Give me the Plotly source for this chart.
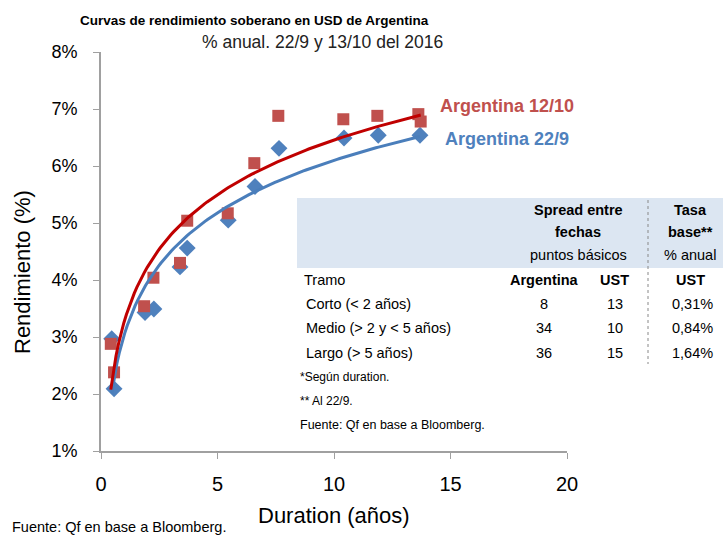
import numpy as np
import plotly.graph_objects as go

# ---- Data ----
dur_229 = [0.46, 0.56, 1.89, 2.27, 3.39, 3.70, 5.46, 6.61, 7.64, 10.43, 11.90, 13.69]
yld_229 = [2.97, 2.09, 3.43, 3.49, 4.23, 4.56, 5.05, 5.64, 6.31, 6.49, 6.54, 6.54]

dur_1210 = [0.42, 0.56, 1.85, 2.25, 3.39, 3.70, 5.44, 6.58, 7.61, 10.40, 11.86, 13.62, 13.72]
yld_1210 = [2.88, 2.38, 3.54, 4.04, 4.30, 5.04, 5.17, 6.05, 6.88, 6.82, 6.88, 6.91, 6.78]

x_ticks = [0, 5, 10, 15, 20]
y_ticks = [1, 2, 3, 4, 5, 6, 7, 8]
y_tick_text = ["1%", "2%", "3%", "4%", "5%", "6%", "7%", "8%"]

tramos = ["Corto (< 2 años)", "Medio (> 2 y < 5 años)", "Largo (> 5 años)"]
spread_arg = ["8", "34", "36"]
spread_ust = ["13", "10", "15"]
tasa_ust = ["0,31%", "0,84%", "1,64%"]

RED_M = "#C0504D"
RED_L = "#C00000"
BLUE_M = "#4F81BD"
BLUE_L = "#4A7EBB"
FONT = "Liberation Sans"

W, H = 723, 535
L, R, T, B = 101, 567, 52, 451


def px(x):
    return (x - L) / (R - L)


def py(y):
    return (B - y) / (B - T)


def log_trend(xs, ys):
    b, a = np.polyfit(np.log(xs), ys, 1)
    xx = np.linspace(min(xs), max(xs), 120)
    return xx, a + b * np.log(xx)


fig = go.Figure()

for xs, ys, mc, sym, sz in [
    (dur_229, yld_229, BLUE_M, "diamond", 13),
    (dur_1210, yld_1210, RED_M, "square", 12),
]:
    fig.add_trace(go.Scatter(x=xs, y=ys, mode="markers",
                             marker=dict(symbol=sym, size=sz, color=mc),
                             showlegend=False, hoverinfo="skip"))

for xs, ys, lc in [(dur_229, yld_229, BLUE_L), (dur_1210, yld_1210, RED_L)]:
    tx, ty = log_trend(xs, ys)
    fig.add_trace(go.Scatter(x=tx, y=ty, mode="lines",
                             line=dict(color=lc, width=3),
                             showlegend=False, hoverinfo="skip"))

ann = []


def text(x, y, s, size=14.5, color="black", bold=False, xanchor="center", angle=0):
    if bold:
        s = "<b>" + s + "</b>"
    ann.append(dict(x=px(x), y=py(y), xref="paper", yref="paper", text=s, showarrow=False,
                    xanchor=xanchor, yanchor="middle", textangle=angle,
                    font=dict(family=FONT, size=size, color=color)))


# Titles
text(254, 20, "Curvas de rendimiento soberano en USD de Argentina", size=13.5, bold=True)
text(322, 42, "% anual. 22/9 y 13/10 del 2016", size=17.5, color="#222")
text(334, 515, "Duration (años)", size=22)
text(10, 527, "Fuente: Qf en base a Bloomberg.", size=14.5, xanchor="left")
text(22, 272, "Rendimiento (%)", size=22, angle=-90)

# Series labels
text(438, 106, "Argentina 12/10", size=18, color=RED_M, bold=True, xanchor="left")
text(443, 139, "Argentina 22/9", size=18, color=BLUE_M, bold=True, xanchor="left")

# Table
text(578, 210, "Spread entre", bold=True)
text(578, 232, "fechas", bold=True)
text(578, 255, "puntos básicos")
text(690, 210, "Tasa", bold=True)
text(690, 232, "base**", bold=True)
text(690, 255, "% anual")
text(302, 280, "Tramo", xanchor="left")
text(544, 280, "Argentina", bold=True)
text(614, 280, "UST", bold=True)
text(690, 280, "UST", bold=True)
for i, (t, a, u, r) in enumerate(zip(tramos, spread_arg, spread_ust, tasa_ust)):
    yy = 304 + i * 24.3
    text(304, yy, t, xanchor="left")
    text(544, yy, a)
    text(615, yy, u)
    text(692, yy, r)
text(298, 377, "*Según duration.", size=12, xanchor="left")
text(298, 401, "** Al 22/9.", size=12, xanchor="left")
text(298, 425, "Fuente: Qf en base a Bloomberg.", size=12.5, xanchor="left")

shapes = [
    dict(type="rect", xref="paper", yref="paper", x0=px(297), x1=px(723), y0=py(268), y1=py(198),
         fillcolor="#DCE6F2", line=dict(width=0), layer="below"),
    dict(type="line", xref="paper", yref="paper", x0=px(648), x1=px(648), y0=py(200), y1=py(364),
         line=dict(color="#888", width=1, dash="dot")),
]

fig.update_layout(
    width=W, height=H,
    margin=dict(l=L, r=W - R, t=T, b=H - B, pad=0),
    paper_bgcolor="white", plot_bgcolor="white",
    font=dict(family=FONT, color="black"),
    annotations=ann, shapes=shapes, showlegend=False,
    xaxis=dict(range=[0, 20], tickvals=x_ticks, ticks="outside", ticklen=6, tickcolor="#A0A0A0",
               showline=True, linecolor="#A0A0A0", linewidth=2, showgrid=False, zeroline=False,
               tickfont=dict(size=20), ticklabelstandoff=8),
    yaxis=dict(range=[1, 8], tickvals=y_ticks, ticktext=y_tick_text, ticks="outside", ticklen=6,
               tickcolor="#A0A0A0", showline=True, linecolor="#A0A0A0", linewidth=2, showgrid=False,
               zeroline=False, tickfont=dict(size=18), ticklabelstandoff=12),
)

fig.write_html("out.html", config={"displayModeBar": False},
               post_script="document.body.style.margin='0px';")
